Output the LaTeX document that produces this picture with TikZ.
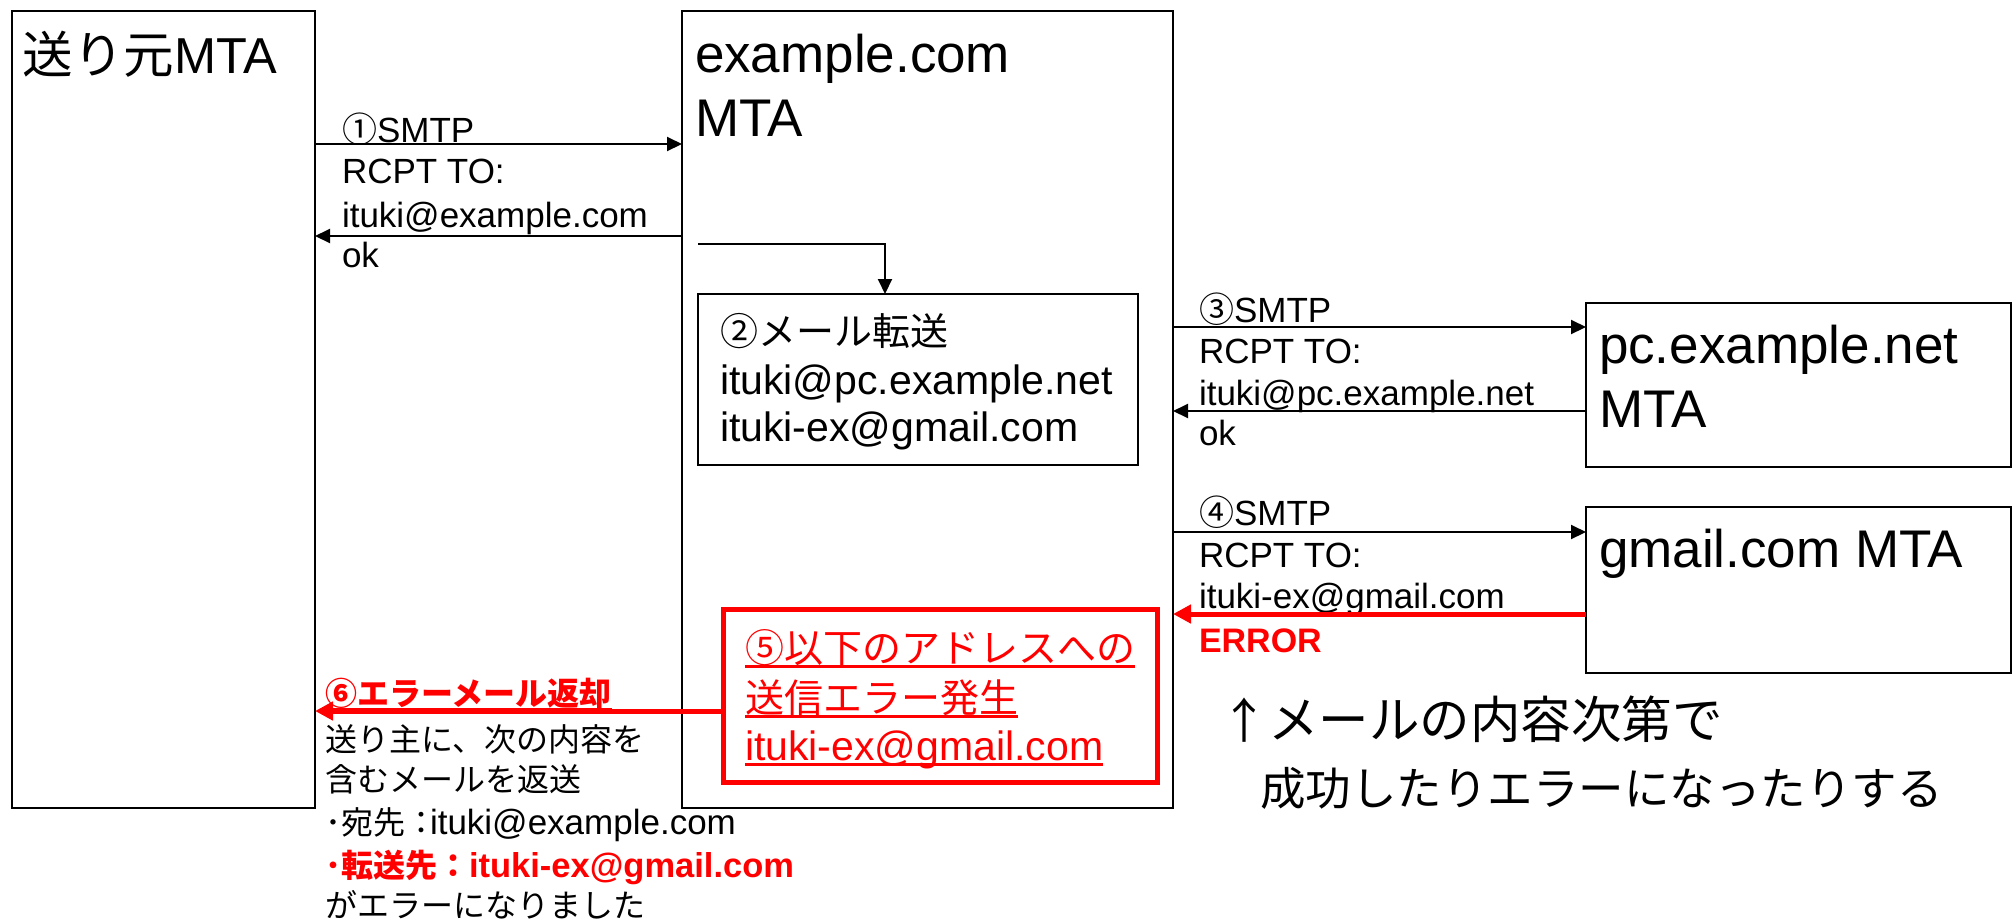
\documentclass[tikz,border=0pt]{standalone}
\usepackage{fontspec}
\setmainfont{Liberation Sans}
\newfontfamily\jp{Noto Sans CJK JP}
\usetikzlibrary{arrows.meta,calc}
\definecolor{myred}{RGB}{255,0,0}
\newcommand\fs[1]{\fontsize{#1}{#1}\selectfont}
\newcommand\myul[1]{\setbox0=\hbox{#1}\rlap{\rule[-5.5pt]{\wd0}{3pt}}\box0}
\tikzset{
  box/.style={draw, line width=2pt, inner sep=0pt, outer sep=0pt, anchor=north west},
  lbl/.style={anchor=base west, inner sep=0pt, outer sep=0pt, font=\fs{35}},
  arr/.style={line width=2pt, -{Triangle[length=15pt,width=14pt]}},
  rarr/.style={myred, line width=5pt, -{Triangle[length=18pt,width=18pt]}},
}
\begin{document}
\begin{tikzpicture}[x=1pt,y=-1pt]
\path[use as bounding box] (0,0) rectangle (2016,922);
% boxes
\node[box, minimum width=303pt, minimum height=797pt] (src) at (12,11) {};
\node[box, minimum width=491pt, minimum height=797pt] (mid) at (682,11) {};
\node[box, line width=1.5pt, minimum width=440pt, minimum height=171pt] (fwd) at (698,294) {};
\node[box, minimum width=425pt, minimum height=164pt] (pc) at (1586,303) {};
\node[box, minimum width=425pt, minimum height=166pt] (gm) at (1586,507) {};
\node[box, draw=myred, line width=5pt, minimum width=434pt, minimum height=173pt] (err) at (723,609) {};
% box titles
\node[lbl, font=\fs{50.5}] (t1) at (23,73) {{\jp 送り元}MTA};
\node[lbl, font=\fs{53}] (t2a) at (695,72) {example.com};
\node[lbl, font=\fs{53}] (t2b) at (695,136) {MTA};
\node[lbl, font=\fs{53}] (t3a) at (1599,363) {pc.example.net};
\node[lbl, font=\fs{53}] (t3b) at (1599,427) {MTA};
\node[lbl, font=\fs{53}] (t4) at (1599,567) {gmail.com MTA};
% forward box text
\node[lbl, font=\fs{38}] (f1) at (720,345) {\jp ②メール転送};
\node[lbl, font=\fs{41}] (f2) at (720,394) {ituki@pc.example.net};
\node[lbl, font=\fs{41}] (f3) at (720,441) {ituki-ex@gmail.com};
% error box text
\node[lbl, font=\fs{39}, text=myred] (e1) at (745,662) {\myul{\jp ⑤以下のアドレスへの}};
\node[lbl, font=\fs{39}, text=myred] (e2) at (745,712) {\myul{\jp 送信エラー発生}};
\node[lbl, font=\fs{41}, text=myred] (e3) at (745,760) {\myul{ituki-ex@gmail.com}};
% left labels
\node[lbl] (l1) at (342,142) {{\jp ①}SMTP};
\node[lbl] (l2) at (342,183) {RCPT TO:};
\node[lbl] (l3) at (342,227) {ituki@example.com};
\node[lbl] (l4) at (342,267) {ok};
% right labels
\node[lbl] (r1) at (1199,322) {{\jp ③}SMTP};
\node[lbl] (r2) at (1199,363) {RCPT TO:};
\node[lbl] (r3) at (1199,405) {ituki@pc.example.net};
\node[lbl] (r4) at (1199,445) {ok};
\node[lbl] (s1) at (1199,525) {{\jp ④}SMTP};
\node[lbl] (s2) at (1199,567) {RCPT TO:};
\node[lbl] (s3) at (1199,608) {ituki-ex@gmail.com};
\node[lbl, font=\fs{34}\bfseries, text=myred] (s4) at (1199,652) {ERROR};
% bottom-left text
\node[lbl, font=\fs{32}\bfseries, text=myred] (b0) at (325,705) {\myul{\jp ⑥エラーメール返却}};
\node[lbl, font=\fs{32}] (b1) at (325,751) {\jp 送り主に、次の内容を};
\node[lbl, font=\fs{32}] (b2) at (325,791) {\jp 含むメールを返送};
\node[lbl, font=\fs{35}] (b3) at (325,834) {{\fs{32}\jp ･宛先：\kern-7pt}ituki@example.com};
\node[lbl, font=\fs{34.5}\bfseries, text=myred] (b4) at (325,877) {{\fs{32}\jp ･転送先：}ituki-ex@gmail.com};
\node[lbl, font=\fs{32}] (b5) at (325,917) {\jp がエラーになりました};
% note
\node[lbl, font=\fs{50.5}] (n1) at (1220,738) {\jp {\fs{48}↑}メールの内容次第で};
\node[lbl, font=\fs{45.5}] (n2) at (1260,805) {\jp 成功したりエラーになったりする};
% connectors
\draw[arr] ($(src.north east)+(0,133)$) -- ($(mid.north west)+(0,133)$);
\draw[arr] ($(mid.north west)+(0,225)$) -- ($(src.north east)+(0,225)$);
\coordinate (fs) at (698,244);
\draw[arr] (fs) -| ($(fwd.north west)+(187,0)$);
\draw[arr] ($(mid.north east)+(0,316)$) -- ($(pc.north west)+(0,24)$);
\draw[arr] ($(pc.north west)+(0,108)$) -- ($(mid.north east)+(0,400)$);
\draw[arr] ($(mid.north east)+(0,521)$) -- ($(gm.north west)+(0,25)$);
\draw[rarr] ($(gm.north west)+(0,107)$) -- ($(mid.north east)+(0,603)$);
\draw[rarr] ($(err.north west)+(0,102)$) -- ($(src.north east)+(0,700)$);
\end{tikzpicture}
\end{document}
